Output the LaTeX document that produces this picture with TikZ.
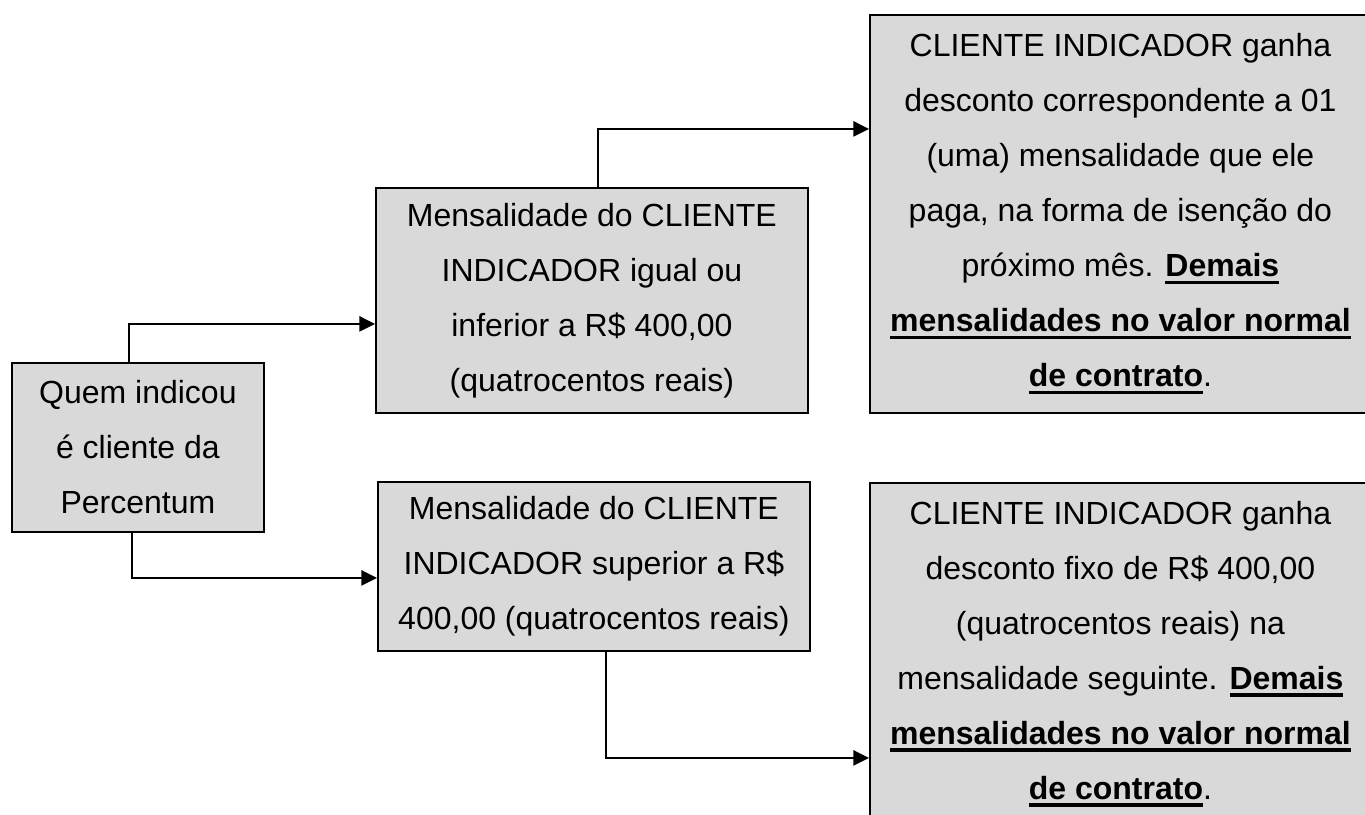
\documentclass[tikz,border=0pt]{standalone}
\usepackage{fontspec}
\setmainfont{Liberation Sans}
\usetikzlibrary{arrows.meta,calc}
\definecolor{boxgray}{RGB}{217,217,217}
\newsavebox\ulbox
\newcommand{\myul}[1]{\sbox\ulbox{#1}\rlap{\rule[-3.6pt]{\wd\ulbox}{1.7pt}}\usebox\ulbox}
\tikzset{
  flowbox/.style={draw=black, line width=0.9pt, fill=boxgray, align=center,
    inner sep=0pt, anchor=north west,
    font=\fontsize{16pt}{27.5pt}\selectfont},
  conn/.style={draw=black, line width=0.9pt, -{Triangle[length=7.8pt,width=7.6pt]}}
}
\begin{document}
\begin{tikzpicture}[x=0.5pt,y=-0.5pt]
\useasboundingbox (0,0) rectangle (1365,814);
\clip (0,0) rectangle (1365,814);
\fill[white] (0,0) rectangle (1365,814);
\node[flowbox, minimum width=126pt, minimum height=84.5pt] (A) at (11,362)
  {Quem indicou\\ é cliente da\\ Percentum};
\node[flowbox, minimum width=216pt, minimum height=112.5pt] (B) at (375,187)
  {Mensalidade do CLIENTE\\ INDICADOR igual ou\\ inferior a R\$ 400,00\\ (quatrocentos reais)};
\node[flowbox, minimum width=216pt, minimum height=84.5pt] (C) at (377,481)
  {Mensalidade do CLIENTE\\ INDICADOR superior a R\$\\ 400,00 (quatrocentos reais)};
\node[flowbox, minimum width=250.5pt, minimum height=199pt] (D) at (869,14)
  {CLIENTE INDICADOR ganha\\ desconto correspondente a 01\\ (uma) mensalidade que ele\\
   paga, na forma de isenção do\\ próximo mês. \myul{\textbf{Demais}}\\
   \myul{\textbf{mensalidades no valor normal}}\\ \myul{\textbf{de contrato}}.};
\node[flowbox, minimum width=250.5pt, minimum height=171pt] (E) at (869,482)
  {CLIENTE INDICADOR ganha\\ desconto fixo de R\$ 400,00\\ (quatrocentos reais) na\\
   mensalidade seguinte. \myul{\textbf{Demais}}\\
   \myul{\textbf{mensalidades no valor normal}}\\ \myul{\textbf{de contrato}}.};
\draw[conn] ($(A.north)+(-9,0)$) |- ($(B.west)+(0,23.5)$);
\draw[conn] ($(A.south)+(-6,0)$) |- ($(C.west)+(0,11.5)$);
\draw[conn] ($(B.north)+(6,0)$) |- ($(D.west)+(0,-85)$);
\draw[conn] ($(C.south)+(12,0)$) |- ($(E.west)+(0,104)$);
\end{tikzpicture}
\end{document}
